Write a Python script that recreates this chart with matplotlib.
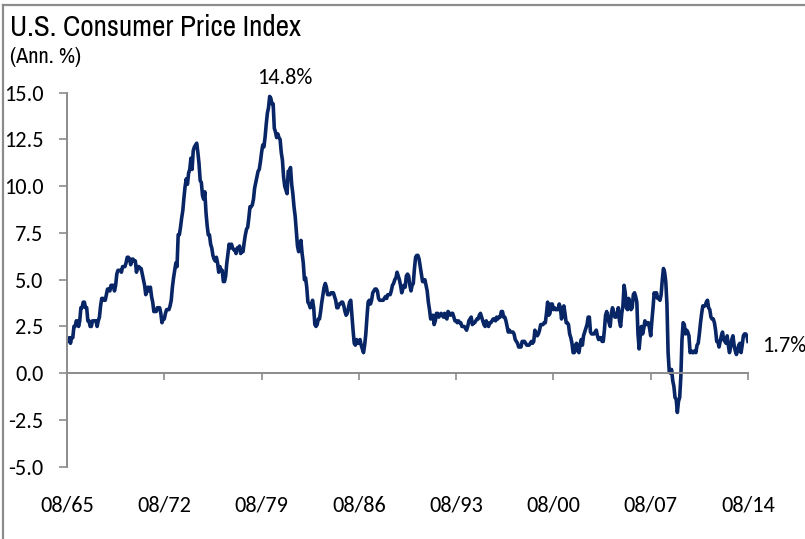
import matplotlib
matplotlib.use("Agg")
import matplotlib.pyplot as plt
import numpy as np
from matplotlib.lines import Line2D

# ---- data: U.S. CPI, annual % change, monthly Aug 1965 - Aug 2014 ----
cpi_1965_69 = [
    1.7, 1.7, 1.9, 1.6, 1.9,                                    # 1965 Aug-Dec
    1.9, 2.5, 2.5, 2.8, 2.8, 2.5, 2.8, 3.5, 3.5, 3.8, 3.8, 3.5,  # 1966
    3.5, 2.8, 2.8, 2.5, 2.5, 2.8, 2.8, 2.8, 2.8, 2.5, 2.8, 3.0,  # 1967
    3.6, 4.0, 4.0, 3.9, 3.9, 4.2, 4.5, 4.5, 4.4, 4.7, 4.7, 4.7,  # 1968
    4.4, 4.7, 5.3, 5.5, 5.5, 5.5, 5.4, 5.7, 5.7, 5.7, 5.9, 6.2,  # 1969
]
cpi_1970s = [
    6.2, 6.1, 5.8, 6.1, 6.1, 6.0, 6.0, 5.4, 5.7, 5.7, 5.6, 5.6,        # 1970
    5.3, 5.0, 4.7, 4.2, 4.4, 4.6, 4.4, 4.6, 4.1, 3.8, 3.3, 3.3,        # 1971
    3.3, 3.5, 3.5, 3.5, 3.2, 2.7, 2.9, 2.9, 3.2, 3.4, 3.4, 3.4,        # 1972
    3.6, 3.9, 4.6, 5.1, 5.5, 5.9, 5.7, 7.4, 7.4, 7.8, 8.3, 8.7,        # 1973
    9.4, 10.0, 10.4, 10.1, 10.7, 10.9, 11.5, 10.9, 11.9, 12.1, 12.2, 12.3,  # 1974
    11.8, 11.2, 10.3, 10.2, 9.5, 9.3, 9.7, 8.6, 7.9, 7.4, 7.4, 6.9,   # 1975
    6.7, 6.3, 6.1, 6.0, 6.2, 5.9, 5.4, 5.7, 5.5, 5.5, 4.9, 4.9,        # 1976
    5.2, 5.9, 6.4, 6.9, 6.7, 6.9, 6.7, 6.6, 6.6, 6.4, 6.7, 6.7,        # 1977
    6.8, 6.4, 6.6, 6.5, 7.0, 7.4, 7.7, 7.8, 8.3, 8.9, 8.9, 9.0,        # 1978
    9.3, 9.9, 10.2, 10.5, 10.8, 10.9, 11.3, 11.8, 12.2, 12.1, 12.6, 13.3,  # 1979
]
cpi_1980s = [
    13.9, 14.2, 14.8, 14.7, 14.4, 14.4, 13.1, 12.9, 12.6, 12.8, 12.6, 12.5,  # 1980
    11.8, 11.4, 10.5, 10.0, 9.8, 9.6, 10.8, 10.8, 11.0, 10.1, 9.6, 8.9,      # 1981
    8.4, 7.6, 6.8, 6.5, 6.7, 7.1, 6.4, 5.9, 5.0, 5.1, 4.6, 3.8,             # 1982
    3.7, 3.5, 3.6, 3.9, 3.5, 2.6, 2.5, 2.6, 2.9, 2.9, 3.3, 3.8,             # 1983
    4.2, 4.6, 4.8, 4.6, 4.2, 4.2, 4.2, 4.3, 4.3, 4.3, 4.1, 3.9,             # 1984
    3.5, 3.5, 3.7, 3.7, 3.8, 3.8, 3.6, 3.3, 3.1, 3.2, 3.5, 3.8,             # 1985
    3.9, 3.1, 2.3, 1.6, 1.5, 1.8, 1.6, 1.6, 1.8, 1.5, 1.3, 1.1,             # 1986
    1.5, 2.1, 3.0, 3.8, 3.9, 3.7, 3.9, 4.3, 4.4, 4.5, 4.5, 4.4,             # 1987
    4.0, 3.9, 3.9, 3.9, 3.9, 4.0, 4.1, 4.0, 4.2, 4.2, 4.2, 4.4,             # 1988
    4.7, 4.8, 5.0, 5.1, 5.4, 5.2, 5.0, 4.7, 4.3, 4.5, 4.7, 4.6,             # 1989
]
cpi_1990s = [
    5.2, 5.3, 5.2, 4.7, 4.4, 4.7, 4.8, 5.6, 6.2, 6.3, 6.3, 6.1,  # 1990
    5.7, 5.3, 4.9, 4.9, 5.0, 4.7, 4.4, 3.8, 3.4, 2.9, 3.0, 3.1,  # 1991
    2.6, 2.8, 3.2, 3.2, 3.0, 3.1, 3.2, 3.1, 3.0, 3.2, 3.0, 2.9,  # 1992
    3.3, 3.2, 3.1, 3.2, 3.2, 3.0, 2.8, 2.8, 2.7, 2.8, 2.7, 2.7,  # 1993
    2.5, 2.5, 2.5, 2.4, 2.3, 2.5, 2.8, 2.9, 3.0, 2.6, 2.7, 2.7,  # 1994
    2.8, 2.9, 2.9, 3.1, 3.2, 3.0, 2.8, 2.6, 2.5, 2.8, 2.6, 2.5,  # 1995
    2.7, 2.7, 2.8, 2.9, 2.9, 2.8, 3.0, 2.9, 3.0, 3.0, 3.3, 3.3,  # 1996
    3.0, 3.0, 2.8, 2.5, 2.2, 2.3, 2.2, 2.2, 2.2, 2.1, 1.8, 1.7,  # 1997
    1.6, 1.4, 1.4, 1.4, 1.7, 1.7, 1.7, 1.6, 1.5, 1.5, 1.5, 1.6,  # 1998
    1.7, 1.6, 1.7, 2.3, 2.1, 2.0, 2.1, 2.3, 2.6, 2.6, 2.6, 2.7,  # 1999
]
cpi_2000s = [
    2.7, 3.2, 3.8, 3.1, 3.2, 3.7, 3.7, 3.4, 3.5, 3.4, 3.4, 3.4,        # 2000
    3.7, 3.5, 2.9, 3.3, 3.6, 3.2, 2.7, 2.7, 2.6, 2.1, 1.9, 1.6,        # 2001
    1.1, 1.1, 1.5, 1.6, 1.2, 1.1, 1.5, 1.8, 1.5, 2.0, 2.2, 2.4,        # 2002
    2.6, 3.0, 3.0, 2.2, 2.1, 2.1, 2.1, 2.2, 2.3, 2.0, 1.8, 1.9,        # 2003
    1.9, 1.7, 1.7, 2.3, 3.1, 3.3, 3.0, 2.7, 2.5, 3.2, 3.5, 3.3,        # 2004
    3.0, 3.0, 3.1, 3.5, 2.8, 2.5, 3.2, 3.6, 4.7, 4.3, 3.5, 3.4,        # 2005
    4.0, 3.6, 3.4, 3.5, 4.2, 4.3, 4.1, 3.8, 2.1, 1.3, 2.0, 2.5,        # 2006
    2.1, 2.4, 2.8, 2.6, 2.7, 2.7, 2.4, 2.0, 2.8, 3.5, 4.3, 4.1,        # 2007
    4.3, 4.0, 4.0, 3.9, 4.2, 5.0, 5.6, 5.4, 4.9, 3.7, 1.1, 0.1,        # 2008
    0.0, 0.2, -0.4, -0.7, -1.3, -1.4, -2.1, -1.5, -1.3, -0.2, 1.8, 2.7,  # 2009
]
cpi_2010_14 = [
    2.6, 2.1, 2.3, 2.2, 2.0, 1.1, 1.2, 1.1, 1.1, 1.2, 1.1, 1.5,  # 2010
    1.6, 2.1, 2.7, 3.2, 3.6, 3.6, 3.6, 3.8, 3.9, 3.5, 3.4, 3.0,  # 2011
    2.9, 2.9, 2.7, 2.3, 1.7, 1.7, 1.4, 1.7, 2.0, 2.2, 1.8, 1.7,  # 2012
    1.6, 2.0, 1.5, 1.1, 1.4, 1.8, 2.0, 1.5, 1.2, 1.0, 1.2, 1.5,  # 2013
    1.6, 1.1, 1.5, 2.0, 2.1, 2.1, 2.0, 1.7,                      # 2014 Jan-Aug
]
x_tick_labels = ["08/65", "08/72", "08/79", "08/86", "08/93", "08/00", "08/07", "08/14"]
y_ticks = [-5.0, -2.5, 0.0, 2.5, 5.0, 7.5, 10.0, 12.5, 15.0]
title = "U.S. Consumer Price Index"
subtitle = "(Ann. %)"

values = np.array(cpi_1965_69 + cpi_1970s + cpi_1980s + cpi_1990s + cpi_2000s + cpi_2010_14)
months = np.arange(len(values))  # months since Aug 1965

# ---- styling ----
W, H = 805, 539
NAVY = "#082566"
GRAY = "#8c8c8c"
NUM_FONT = ["Carlito", "DejaVu Sans"]
NARROW = ["Archivo Narrow", "DejaVu Sans"]

fig = plt.figure(figsize=(W / 100, H / 100), dpi=100)
fig.patch.set_facecolor("white")

# border (left and top visible)
fig.add_artist(Line2D([3 / W, 3 / W], [0, 1 - 5 / H], color=GRAY, lw=1.6, transform=fig.transFigure))
fig.add_artist(Line2D([3 / W, 1], [1 - 5 / H, 1 - 5 / H], color=GRAY, lw=1.6, transform=fig.transFigure))

left, right, top, bottom = 67, 748, 92.7, 466.7
ax = fig.add_axes([left / W, 1 - bottom / H, (right - left) / W, (bottom - top) / H])
ax.plot(months, values, color=NAVY, lw=2.6, solid_joinstyle="round")

ax.set_xlim(0, len(values) - 1)
ax.set_ylim(-5, 15)

for s in ["top", "right"]:
    ax.spines[s].set_visible(False)
ax.spines["left"].set_color(GRAY)
ax.spines["left"].set_linewidth(1.4)
ax.spines["bottom"].set_position(("data", 0))
ax.spines["bottom"].set_color(GRAY)
ax.spines["bottom"].set_linewidth(1.4)

ax.set_yticks(y_ticks)
ax.set_yticklabels([f"{v:.1f}" for v in y_ticks], fontfamily=NUM_FONT, fontsize=16)
ax.tick_params(axis="y", direction="out", length=5.8, width=1.2, color=GRAY, pad=11)

xt = np.arange(0, len(values), 84)
ax.set_xticks(xt)
ax.set_xticklabels([])
ax.tick_params(axis="x", direction="out", length=5, width=1.2, color=GRAY)
for pos, lab in zip(xt, x_tick_labels):
    ax.text(pos, -0.1026, lab, transform=ax.get_xaxis_transform(), ha="center", va="center",
            fontsize=16, family=NUM_FONT, clip_on=False)

# annotations
imax = int(np.argmax(values))
fig.text(285 / W, 1 - 78 / H, f"{values[imax]:.1f}%", ha="center", va="center", fontsize=16, family=NUM_FONT)
fig.text(762 / W, 1 - 346 / H, f"{values[-1]:.1f}%", ha="left", va="center", fontsize=16, family=NUM_FONT)

# titles
fig.text(10 / W, 1 - 27 / H, title, ha="left", va="center", fontsize=21, family=NARROW)
fig.text(10 / W, 1 - 57 / H, subtitle, ha="left", va="center", fontsize=16, family=NARROW)

fig.savefig("out.png", dpi=100, facecolor="white")
